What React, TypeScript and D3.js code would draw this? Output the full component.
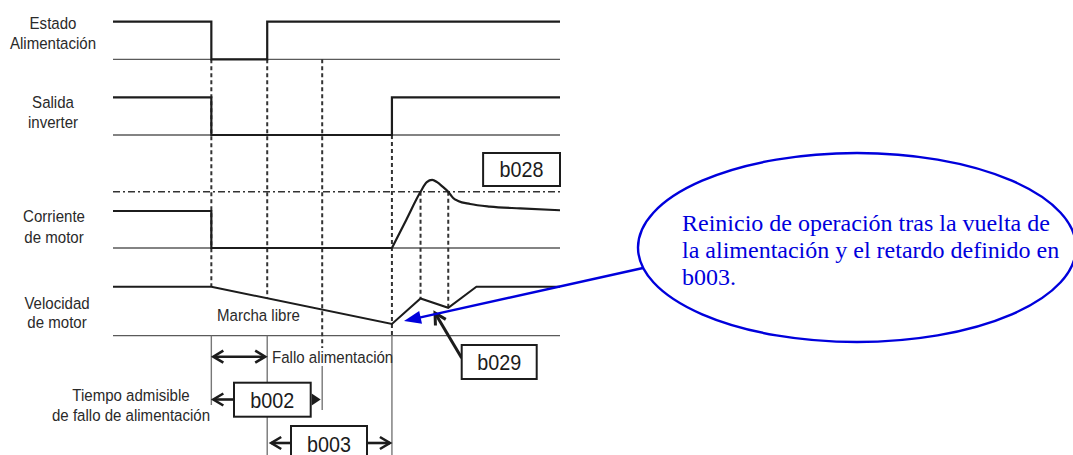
import React from 'react';
import * as d3 from 'd3';

const W = 1073;
const H = 455;

// ---- time events (arbitrary time units) ----
const T_FAIL = 22;
const T_RESTORE = 34.5;
const T_B002_END = 46.8;
const T_RESTART = 62.4;
const T_V_PEAK = 68.8;
const T_V_VALLEY = 75;
const T_END = 100;

// ---- signal levels ----
const estadoData: [number, number][] = [[0, 1], [22, 1], [22, 0], [34.5, 0], [34.5, 1], [100, 1]];
const salidaData: [number, number][] = [[0, 1], [22, 1], [22, 0], [62.4, 0], [62.4, 1], [100, 1]];
const corrienteStep: [number, number][] = [[0, 1], [22, 1], [22, 0], [62.4, 0]];
const corrienteRestart: [number, number][] = [
  [62.4, 0], [65.6, 0.76], [68.8, 1.52], [70.2, 1.78], [71.4, 1.84], [72.5, 1.78],
  [73.8, 1.65], [75, 1.52], [76.1, 1.35], [77.2, 1.27], [79.9, 1.19], [84.3, 1.12],
  [91.1, 1.07], [100, 1.02],
];
const velocidadData: [number, number][] = [[0, 1], [22, 1], [62.4, 0.24], [68.8, 0.76], [75, 0.57], [81.3, 1], [100, 1]];
const B028_LEVEL = 1.52;

// ---- labels ----
const rowLabels = [
  { band: 'estado', lines: ['Estado', 'Alimentación'] },
  { band: 'salida', lines: ['Salida', 'inverter'] },
  { band: 'corriente', lines: ['Corriente', 'de motor'] },
  { band: 'velocidad', lines: ['Velocidad', 'de motor'] },
];
const calloutLines = [
  'Reinicio de operación tras la vuelta de',
  'la alimentación y el retardo definido en',
  'b003.',
];

// ---- layout ----
const X0 = 113;
const X1 = 560;
const bands: Record<string, { y0: number; y1: number; labelY: number[]; labelX: number }> = {
  estado: { y0: 59.3, y1: 21.7, labelY: [28.5, 49], labelX: 53 },
  salida: { y0: 135, y1: 97.3, labelY: [107.5, 127.5], labelX: 53 },
  corriente: { y0: 248, y1: 211, labelY: [222, 242.5], labelX: 54 },
  velocidad: { y0: 335.7, y1: 286.7, labelY: [308.5, 328], labelX: 57 },
};

const SANS = "'Liberation Sans', Arial, sans-serif";
const SERIF = "'Liberation Serif', 'Times New Roman', serif";
const INK = '#1c1c1c';
const TXT = '#2a2a2a';
const GRID = '#5a5a5a';
const BLUE = '#0000dc';

function chevron(x: number, y: number, angle: number, len = 10, half = 6) {
  const ca = Math.cos(angle), sa = Math.sin(angle);
  const bx = x - ca * len, by = y - sa * len;
  const px = -sa * half, py = ca * half;
  return `M${bx + px},${by + py}L${x},${y}L${bx - px},${by - py}`;
}
function triangle(x: number, y: number, angle: number, len = 10, half = 6) {
  const ca = Math.cos(angle), sa = Math.sin(angle);
  const bx = x - ca * len, by = y - sa * len;
  const px = -sa * half, py = ca * half;
  return `M${x},${y}L${bx + px},${by + py}L${bx - px},${by - py}Z`;
}

function SText(props: { x: number; y: number; size?: number; sx?: number; anchor?: string; fill?: string; children: React.ReactNode }) {
  const { x, y, size = 17, sx = 0.885, anchor = 'start', fill = TXT, children } = props;
  return (
    <text transform={`translate(${x},${y}) scale(${sx},1)`} textAnchor={anchor as any} fontFamily={SANS} fontSize={size} fill={fill}>
      {children}
    </text>
  );
}

export default function App() {
  const x = d3.scaleLinear().domain([0, T_END]).range([X0, X1]);
  const ys: Record<string, d3.ScaleLinear<number, number>> = {};
  Object.keys(bands).forEach((k) => {
    ys[k] = d3.scaleLinear().domain([0, 1]).range([bands[k].y0, bands[k].y1]);
  });
  const lineFor = (band: string, curve: d3.CurveFactory = d3.curveLinear) =>
    d3.line<[number, number]>().x((d) => x(d[0])).y((d) => ys[band](d[1])).curve(curve);

  const velAt = (t: number) => {
    const v = d3.scaleLinear().domain(velocidadData.map((d) => d[0]).slice(1)).range(velocidadData.map((d) => d[1]).slice(1));
    return t <= 22 ? 1 : v(t);
  };

  const yE0 = ys.estado(0);
  const yS0 = ys.salida(0);
  const yV0 = ys.velocidad(0);
  const yThr = ys.corriente(B028_LEVEL);

  const dashed = [
    { t: T_FAIL, a: yE0, b: ys.velocidad(1) },
    { t: T_RESTORE, a: yE0, b: ys.velocidad(velAt(T_RESTORE)) },
    { t: T_B002_END, a: yE0, b: 348 },
    { t: T_RESTART, a: yS0, b: yV0 },
    { t: T_V_PEAK, a: yThr, b: ys.velocidad(velAt(T_V_PEAK)) },
    { t: T_V_VALLEY, a: yThr, b: ys.velocidad(velAt(T_V_VALLEY)) },
  ];
  const solidBelow = [
    { t: T_FAIL, a: yV0, b: 405 },
    { t: T_RESTORE, a: yV0, b: H },
    { t: T_B002_END, a: 366, b: 410 },
    { t: T_RESTART, a: yV0, b: H },
  ];

  const rowFallo = 356.7;
  const rowB002 = 399.5;
  const rowB003 = 443;

  const box = (x0: number, y0: number, x1: number, y1: number, label: string, key: string) => (
    <g key={key}>
      <rect x={x0} y={y0} width={x1 - x0} height={y1 - y0} fill="#fff" stroke={INK} strokeWidth={2} />
      <SText x={(x0 + x1) / 2} y={(y0 + y1) / 2 + 7.8} size={21.5} sx={0.92} anchor="middle" fill={INK}>
        {label}
      </SText>
    </g>
  );

  // callout ellipse
  const ecx = 857, ecy = 247.5, erx = 219, ery = 94.5;
  const blueStart: [number, number] = [643, 268];
  const blueTip: [number, number] = [404, 321];
  const blueAng = Math.atan2(blueTip[1] - blueStart[1], blueTip[0] - blueStart[0]);

  const b029Start: [number, number] = [461.7, 358];
  const b029Tip: [number, number] = [435, 313];
  const b029Ang = Math.atan2(b029Tip[1] - b029Start[1], b029Tip[0] - b029Start[0]);

  return (
    <svg width={W} height={H} viewBox={`0 0 ${W} ${H}`} style={{ position: 'absolute', left: 0, top: 0, background: '#fff' }}>
      <rect x={0} y={0} width={W} height={H} fill="#fff" />

      {/* baselines */}
      {Object.keys(bands).map((k) => (
        <line key={k} x1={x(0)} x2={x(T_END)} y1={ys[k](0)} y2={ys[k](0)} stroke={GRID} strokeWidth={1.3} />
      ))}

      {/* b028 threshold */}
      <line x1={x(0)} x2={x(T_END)} y1={yThr} y2={yThr} stroke="#333" strokeWidth={1.4} strokeDasharray="7,3,2,3" />

      {/* dashed verticals */}
      {dashed.map((d, i) => (
        <line key={i} x1={x(d.t)} x2={x(d.t)} y1={d.a} y2={d.b} stroke="#333" strokeWidth={2} strokeDasharray="4,3" />
      ))}
      {solidBelow.map((d, i) => (
        <line key={i} x1={x(d.t)} x2={x(d.t)} y1={d.a} y2={d.b} stroke="#777" strokeWidth={1.4} />
      ))}

      {/* signals */}
      <path d={lineFor('estado')(estadoData) || ''} fill="none" stroke={INK} strokeWidth={2.2} />
      <path d={lineFor('salida')(salidaData) || ''} fill="none" stroke={INK} strokeWidth={2.2} />
      <path d={lineFor('corriente')(corrienteStep) || ''} fill="none" stroke={INK} strokeWidth={2.2} />
      <path d={lineFor('corriente', d3.curveMonotoneX)(corrienteRestart) || ''} fill="none" stroke={INK} strokeWidth={2.2} />
      <path d={lineFor('velocidad')(velocidadData) || ''} fill="none" stroke={INK} strokeWidth={2} />

      {/* row labels */}
      {rowLabels.map((r) => (
        <g key={r.band}>
          {r.lines.map((l, i) => (
            <SText key={i} x={bands[r.band].labelX} y={bands[r.band].labelY[i]} anchor="middle">
              {l}
            </SText>
          ))}
        </g>
      ))}

      <SText x={217} y={321}>Marcha libre</SText>

      {/* b028 box */}
      {box(x(82.8), 153, x(T_END), 186, 'b028', 'b028')}

      {/* bottom annotations */}
      <line x1={x(T_FAIL) + 3} x2={x(T_RESTORE) - 3} y1={rowFallo} y2={rowFallo} stroke={INK} strokeWidth={2.6} />
      <path d={chevron(x(T_FAIL) + 2, rowFallo, Math.PI)} fill="none" stroke={INK} strokeWidth={2.6} />
      <path d={chevron(x(T_RESTORE) - 2, rowFallo, 0)} fill="none" stroke={INK} strokeWidth={2.6} />
      <SText x={272} y={rowFallo + 6}>Fallo alimentación</SText>

      <SText x={131} y={401} anchor="middle">Tiempo admisible</SText>
      <SText x={131} y={421} anchor="middle">de fallo de alimentación</SText>

      {/* b002 */}
      <line x1={x(T_FAIL) + 3} x2={234} y1={rowB002} y2={rowB002} stroke={INK} strokeWidth={2.6} />
      <path d={chevron(x(T_FAIL) + 2, rowB002, Math.PI)} fill="none" stroke={INK} strokeWidth={2.6} />
      <path d={triangle(x(T_B002_END) - 1.5, rowB002, 0, 9, 6)} fill={INK} />
      {box(234, 382.7, 310.7, 416.7, 'b002', 'b002')}

      {/* b003 */}
      <line x1={x(T_RESTORE) + 4} x2={291} y1={rowB003} y2={rowB003} stroke={INK} strokeWidth={2.6} />
      <path d={chevron(x(T_RESTORE) + 4, rowB003, Math.PI)} fill="none" stroke={INK} strokeWidth={2.6} />
      <line x1={367} x2={x(T_RESTART) - 2} y1={rowB003} y2={rowB003} stroke={INK} strokeWidth={2.6} />
      <path d={chevron(x(T_RESTART) - 2, rowB003, 0)} fill="none" stroke={INK} strokeWidth={2.6} />
      {box(291, 426, 367, 462, 'b003', 'b003')}

      {/* b029 with arrow */}
      <line x1={b029Start[0]} y1={b029Start[1]} x2={b029Tip[0]} y2={b029Tip[1]} stroke={INK} strokeWidth={3} />
      <path d={chevron(b029Tip[0], b029Tip[1], b029Ang, 11, 6)} fill="none" stroke={INK} strokeWidth={3} />
      {box(461.7, 345, 536.7, 379, 'b029', 'b029')}

      {/* blue callout */}
      <line x1={blueStart[0]} y1={blueStart[1]} x2={blueTip[0] + Math.cos(blueAng) * -10} y2={blueTip[1] + Math.sin(blueAng) * -10} stroke={BLUE} strokeWidth={2.4} />
      <path d={triangle(blueTip[0], blueTip[1], blueAng, 17, 6.5)} fill={BLUE} />
      <ellipse cx={ecx} cy={ecy} rx={erx} ry={ery} fill="none" stroke={BLUE} strokeWidth={2.4} />
      {calloutLines.map((l, i) => (
        <text key={i} x={682} y={231 + i * 27} fontFamily={SERIF} fontSize={24} fill={BLUE}>
          {l}
        </text>
      ))}
    </svg>
  );
}
